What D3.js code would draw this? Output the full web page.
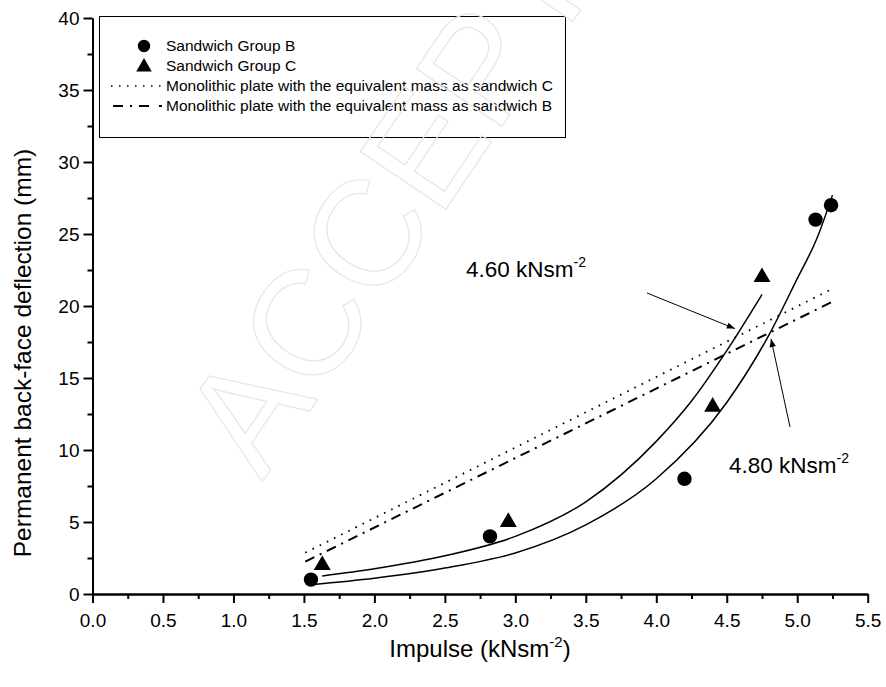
<!DOCTYPE html>
<html>
<head>
<meta charset="utf-8">
<script src="https://cdn.jsdelivr.net/npm/d3@7/dist/d3.min.js"></script>
<style>
  html, body { margin: 0; padding: 0; background: #fff; }
  svg { display: block; font-family: "Liberation Sans", Arial, sans-serif; }
</style>
</head>
<body>
<svg id="chart" width="886" height="687"></svg>
<script>
// Measured specimens
const groupBImpulse = [1.55, 2.82, 4.20, 5.13, 5.24];
const groupBDeflection = [1, 4, 8, 26, 27];
const groupCImpulse = [1.63, 2.95, 4.40, 4.75];
const groupCDeflection = [2, 5, 13, 22];

// Exponential trend curves, sampled along the fitted lines
const fitBImpulse = [1.55, 2.0, 2.5, 3.0, 3.5, 4.0, 4.5, 4.8, 5.0, 5.14, 5.25];
const fitBDeflection = [0.65, 1.1, 1.8, 2.85, 4.8, 8.0, 13.3, 18.0, 21.9, 24.7, 27.7];
const fitCImpulse = [1.63, 2.0, 2.5, 3.0, 3.5, 4.0, 4.25, 4.5, 4.75];
const fitCDeflection = [1.25, 1.75, 2.65, 4.0, 6.4, 10.6, 13.4, 16.9, 20.8];

// Monolithic plate reference lines (end points)
const monoCImpulse = [1.51, 5.23];
const monoCDeflection = [2.87, 21.1];
const monoBImpulse = [1.51, 5.25];
const monoBDeflection = [2.25, 20.3];

// Axis ticks
const xMajorTicks = [0, 0.5, 1, 1.5, 2, 2.5, 3, 3.5, 4, 4.5, 5, 5.5];
const xMinorTicks = [0.25, 0.75, 1.25, 1.75, 2.25, 2.75, 3.25, 3.75, 4.25, 4.75, 5.25];
const yMajorTicks = [0, 5, 10, 15, 20, 25, 30, 35, 40];
const yMinorTicks = [2.5, 7.5, 12.5, 17.5, 22.5, 27.5, 32.5, 37.5];

const legendLabels = [
  "Sandwich Group B",
  "Sandwich Group C",
  "Monolithic plate with the equivalent mass as sandwich C",
  "Monolithic plate with the equivalent mass as sandwich B"
];

const svg = d3.select("#chart");
const x = d3.scaleLinear().domain([0, 5.5]).range([92.5, 867.7]);
const y = d3.scaleLinear().domain([0, 40]).range([594, 18]);

const zip = (xs, ys) => xs.map((v, i) => [v, ys[i]]);

// Axes
const xAxis = d3.axisBottom(x).tickValues(xMajorTicks).tickFormat(d3.format(".1f"))
  .tickSize(9).tickSizeOuter(0).tickPadding(11);
const xAxisMinor = d3.axisBottom(x).tickValues(xMinorTicks).tickFormat("").tickSize(5).tickSizeOuter(0);
const yAxis = d3.axisLeft(y).tickValues(yMajorTicks).tickFormat(d3.format("d"))
  .tickSize(9).tickSizeOuter(0).tickPadding(4);
const yAxisMinor = d3.axisLeft(y).tickValues(yMinorTicks).tickFormat("").tickSize(5).tickSizeOuter(0);

function styleAxis(g) {
  g.select(".domain").attr("stroke", "#000").attr("stroke-width", 2);
  g.selectAll(".tick line").attr("stroke", "#000").attr("stroke-width", 2);
  g.selectAll(".tick text").attr("fill", "#000").attr("font-size", 19)
    .attr("font-family", "'Liberation Sans', Arial, sans-serif");
}

svg.append("g").attr("transform", `translate(0,${y(0)})`).call(xAxisMinor).call(styleAxis);
svg.append("g").attr("transform", `translate(0,${y(0)})`).call(xAxis).call(styleAxis);
svg.append("g").attr("transform", `translate(${x(0)},0)`).call(yAxisMinor).call(styleAxis);
svg.append("g").attr("transform", `translate(${x(0)},0)`).call(yAxis).call(styleAxis);

// Axis titles
const xTitle = svg.append("text").attr("x", 480).attr("y", 657)
  .attr("text-anchor", "middle").attr("font-size", 24).attr("fill", "#000");
xTitle.append("tspan").text("Impulse (kNsm");
xTitle.append("tspan").attr("dy", -10).attr("font-size", 15).text("-2");
xTitle.append("tspan").attr("dy", 10).text(")");

svg.append("text")
  .attr("transform", "translate(31,353) rotate(-90)")
  .attr("text-anchor", "middle").attr("font-size", 24.5).attr("fill", "#000")
  .text("Permanent back-face deflection (mm)");

// Reference lines
const line = d3.line().x(d => x(d[0])).y(d => y(d[1]));
svg.append("path").datum(zip(monoCImpulse, monoCDeflection))
  .attr("d", line).attr("fill", "none").attr("stroke", "#000")
  .attr("stroke-width", 1.8).attr("stroke-dasharray", "1.6,6.4").attr("stroke-linecap", "butt");
svg.append("path").datum(zip(monoBImpulse, monoBDeflection))
  .attr("d", line).attr("fill", "none").attr("stroke", "#000")
  .attr("stroke-width", 2).attr("stroke-dasharray", "10,6,2,6");

// Trend curves
const curve = d3.line().x(d => x(d[0])).y(d => y(d[1])).curve(d3.curveMonotoneX);
svg.append("path").datum(zip(fitBImpulse, fitBDeflection))
  .attr("d", curve).attr("fill", "none").attr("stroke", "#000").attr("stroke-width", 1.5);
svg.append("path").datum(zip(fitCImpulse, fitCDeflection))
  .attr("d", curve).attr("fill", "none").attr("stroke", "#000").attr("stroke-width", 1.5);

// Markers
const tri = d3.symbol().type(d3.symbolTriangle).size(125);
svg.append("g").selectAll("circle").data(zip(groupBImpulse, groupBDeflection)).join("circle")
  .attr("cx", d => x(d[0])).attr("cy", d => y(d[1])).attr("r", 7.2).attr("fill", "#000");
svg.append("g").selectAll("path").data(zip(groupCImpulse, groupCDeflection)).join("path")
  .attr("transform", d => `translate(${x(d[0])},${y(d[1])})`).attr("d", tri).attr("fill", "#000");

// Crossing annotations
const defs = svg.append("defs");
defs.append("marker").attr("id", "arrow").attr("viewBox", "0 0 10 10")
  .attr("refX", 10).attr("refY", 5).attr("markerWidth", 10).attr("markerHeight", 8)
  .attr("markerUnits", "userSpaceOnUse").attr("orient", "auto")
  .append("path").attr("d", "M0,1 L10,5 L0,9 Z").attr("fill", "#000");

const crossC = 4.60, crossB = 4.80;
const crossCY = 2.87 + (crossC - 1.51) * (21.1 - 2.87) / (5.23 - 1.51);
const crossBY = 2.25 + (crossB - 1.51) * (20.3 - 2.25) / (5.25 - 1.51);

svg.append("line").attr("x1", 647).attr("y1", 293)
  .attr("x2", x(crossC) - 6).attr("y2", y(crossCY) - 6)
  .attr("stroke", "#000").attr("stroke-width", 1).attr("marker-end", "url(#arrow)");
svg.append("line").attr("x1", 790).attr("y1", 427)
  .attr("x2", x(crossB) + 2).attr("y2", y(crossBY) + 6)
  .attr("stroke", "#000").attr("stroke-width", 1).attr("marker-end", "url(#arrow)");

function annot(px, py, value) {
  const t = svg.append("text").attr("x", px).attr("y", py).attr("font-size", 22.5).attr("fill", "#000");
  t.append("tspan").text(d3.format(".2f")(value) + " kNsm");
  t.append("tspan").attr("dy", -10).attr("font-size", 14).text("-2");
}
annot(466, 277, crossC);
annot(729, 473, crossB);

// Legend
const lg = svg.append("g");
lg.append("rect").attr("x", 99.5).attr("y", 16.5).attr("width", 466).attr("height", 121)
  .attr("fill", "#fff").attr("stroke", "#000").attr("stroke-width", 1);
const rowY = [46, 66, 86, 106];
lg.append("circle").attr("cx", 144).attr("cy", rowY[0]).attr("r", 6.2).attr("fill", "#000");
lg.append("path").attr("transform", `translate(144,${rowY[1] + 1})`)
  .attr("d", d3.symbol().type(d3.symbolTriangle).size(105)).attr("fill", "#000");
lg.append("line").attr("x1", 111).attr("x2", 162).attr("y1", rowY[2]).attr("y2", rowY[2])
  .attr("stroke", "#000").attr("stroke-width", 1.5).attr("stroke-dasharray", "1.5,6.5");
lg.append("line").attr("x1", 113).attr("x2", 162).attr("y1", rowY[3]).attr("y2", rowY[3])
  .attr("stroke", "#000").attr("stroke-width", 2).attr("stroke-dasharray", "10,7,2,7,10");
lg.selectAll("text.leg").data(legendLabels).join("text").attr("class", "leg")
  .attr("x", 166).attr("y", (d, i) => rowY[i]).attr("dy", "0.35em")
  .attr("font-size", 15.5).attr("fill", "#000").text(d => d);

// Faint diagonal watermark laid over the plot
svg.append("text")
  .attr("transform", "translate(262,482) rotate(-56)")
  .attr("font-size", 150)
  .attr("fill", "none")
  .attr("stroke", "#e6e6e6")
  .attr("stroke-width", 1.2)
  .attr("pointer-events", "none")
  .text("ACCEPTED");
</script>
</body>
</html>
